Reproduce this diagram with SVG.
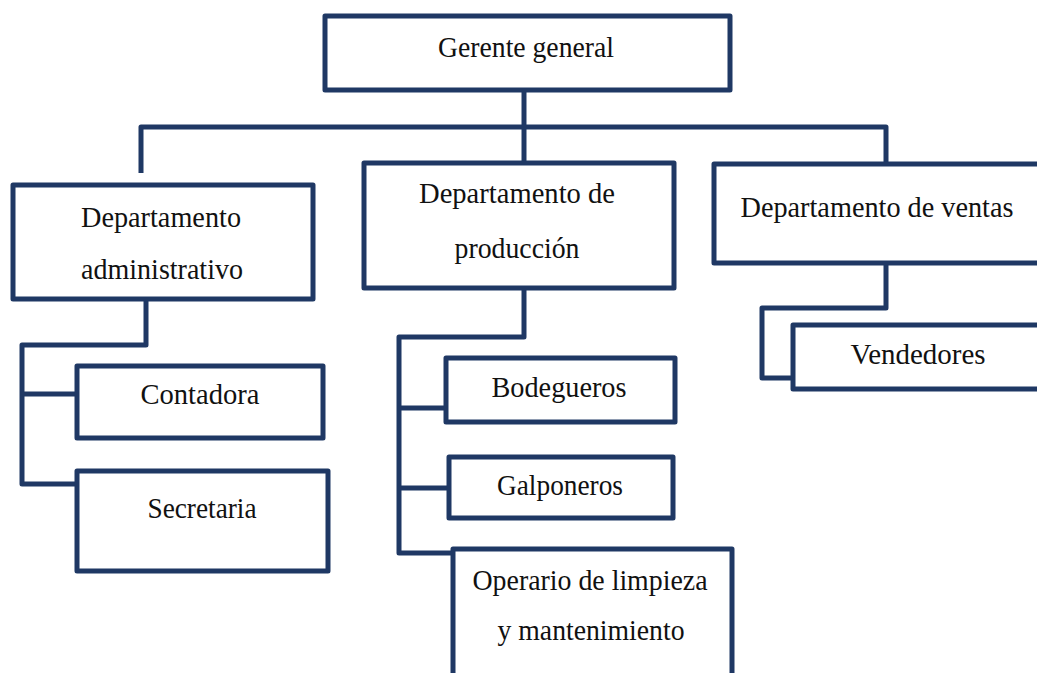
<svg xmlns="http://www.w3.org/2000/svg" width="1037" height="673" viewBox="0 0 1037 673">
<style>
.box{fill:#ffffff;stroke:#1F3864;stroke-width:5;stroke-linejoin:round}
.ln{fill:none;stroke:#1F3864;stroke-width:5;stroke-linejoin:round}
.t{font-size:30px;fill:#111111;text-anchor:middle}
</style>
<rect width="1037" height="673" fill="#ffffff"/>
<g id="connectors">
<polyline class="ln" points="524,90 524,163"/>
<polyline class="ln" points="141,173 141,127 886,127 886,164"/>
<polyline class="ln" points="146,299 146,345 22,345 22,484 77,484"/>
<polyline class="ln" points="22,394 77,394"/>
<polyline class="ln" points="524,288 524,337 399,337 399,553 453,553"/>
<polyline class="ln" points="399,408 446,408"/>
<polyline class="ln" points="399,488 449,488"/>
<polyline class="ln" points="886,263 886,308 762,308 762,378 793,378"/>
</g>
<g font-family="'Liberation Serif', 'Times New Roman', Times, serif">
<g id="gerente">
<rect class="box" x="325" y="16" width="405" height="74"/>
<text class="t" x="526" y="57" textLength="176" lengthAdjust="spacingAndGlyphs">Gerente general</text>
</g>
<g id="dep-admin">
<rect class="box" x="13" y="185" width="300" height="114"/>
<text class="t" x="161" y="227" textLength="160" lengthAdjust="spacingAndGlyphs">Departamento</text>
<text class="t" x="162" y="279" textLength="162" lengthAdjust="spacingAndGlyphs">administrativo</text>
</g>
<g id="dep-prod">
<rect class="box" x="364" y="163" width="310" height="125"/>
<text class="t" x="517" y="203" textLength="196" lengthAdjust="spacingAndGlyphs">Departamento de</text>
<text class="t" x="517" y="258" textLength="125" lengthAdjust="spacingAndGlyphs">producción</text>
</g>
<g id="dep-ventas">
<rect class="box" x="714" y="164" width="340" height="99"/>
<text class="t" x="877" y="217" textLength="273" lengthAdjust="spacingAndGlyphs">Departamento de ventas</text>
</g>
<g id="contadora">
<rect class="box" x="77" y="366" width="246" height="72"/>
<text class="t" x="200" y="404" textLength="119" lengthAdjust="spacingAndGlyphs">Contadora</text>
</g>
<g id="secretaria">
<rect class="box" x="77" y="471" width="251" height="100"/>
<text class="t" x="202" y="518" textLength="109" lengthAdjust="spacingAndGlyphs">Secretaria</text>
</g>
<g id="bodegueros">
<rect class="box" x="446" y="358" width="229" height="64"/>
<text class="t" x="559" y="397" textLength="135" lengthAdjust="spacingAndGlyphs">Bodegueros</text>
</g>
<g id="galponeros">
<rect class="box" x="449" y="457" width="224" height="61"/>
<text class="t" x="560" y="495" textLength="126" lengthAdjust="spacingAndGlyphs">Galponeros</text>
</g>
<g id="operario">
<rect class="box" x="453" y="549" width="279" height="140"/>
<text class="t" x="590" y="590" textLength="235" lengthAdjust="spacingAndGlyphs">Operario de limpieza</text>
<text class="t" x="591" y="640" textLength="187" lengthAdjust="spacingAndGlyphs">y mantenimiento</text>
</g>
<g id="vendedores">
<rect class="box" x="793" y="325" width="260" height="64"/>
<text class="t" x="918" y="364" textLength="135" lengthAdjust="spacingAndGlyphs">Vendedores</text>
</g>
</g>
</svg>
